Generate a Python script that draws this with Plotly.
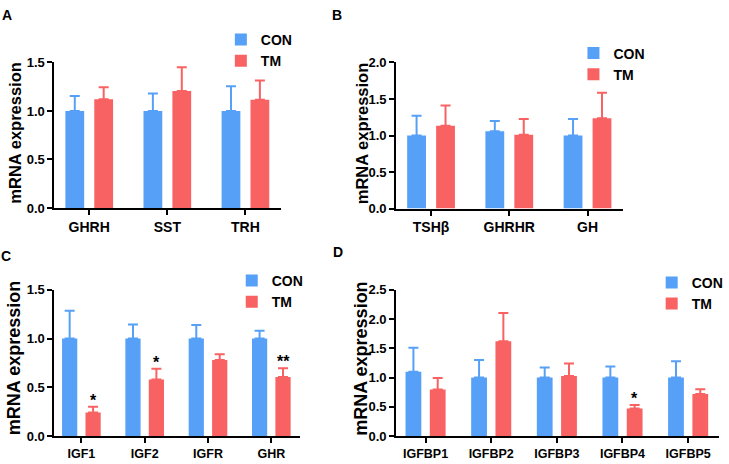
import plotly.graph_objects as go

# Dados (média e erro superior)
genes_a = ["GHRH", "SST", "TRH"]
con_a = [1.0, 1.0, 1.0]
con_a_err = [0.155, 0.18, 0.255]
tm_a = [1.12, 1.205, 1.115]
tm_a_err = [0.125, 0.245, 0.2]

genes_b = ["TSHβ", "GHRHR", "GH"]
con_b = [1.0, 1.06, 1.0]
con_b_err = [0.27, 0.14, 0.225]
tm_b = [1.135, 1.01, 1.235]
tm_b_err = [0.275, 0.215, 0.35]

genes_c = ["IGF1", "IGF2", "IGFR", "GHR"]
con_c = [1.0, 1.0, 1.0, 1.0]
con_c_err = [0.285, 0.145, 0.14, 0.08]
tm_c = [0.24, 0.58, 0.78, 0.605]
tm_c_err = [0.06, 0.11, 0.06, 0.09]
sig_c = ["*", "*", "", "**"]

genes_d = ["IGFBP1", "IGFBP2", "IGFBP3", "IGFBP4", "IGFBP5"]
con_d = [1.1, 1.0, 1.0, 1.0, 1.0]
con_d_err = [0.41, 0.3, 0.17, 0.19, 0.28]
tm_d = [0.795, 1.62, 1.025, 0.47, 0.72]
tm_d_err = [0.195, 0.485, 0.215, 0.06, 0.08]
sig_d = ["", "", "", "*", ""]

W, H = 729, 464
BLUE = "#56A0F7"
RED = "#F96262"
FONT = "Arial, Liberation Sans, sans-serif"


def px_x(v):
    return v / W


def px_y(v):
    return 1 - v / H


# posições em pixels (medidas na imagem de referência)
panels = [
    dict(genes=genes_a, con=con_a, con_err=con_a_err, tm=tm_a, tm_err=tm_a_err, sig=None,
         x0=55, x1=283.3, yt=57.3, yb=207.7, ymax=1.5, xr=[-0.445, 2.45],
         leg=(223, 17.5), letter="A", lpos=(7, 8), tick=14, title=16.5, tx=15, ty=130),
    dict(genes=genes_b, con=con_b, con_err=con_b_err, tm=tm_b, tm_err=tm_b_err, sig=None,
         x0=400, x1=629, yt=57.3, yb=208.3, ymax=2.0, xr=[-0.446, 2.453],
         leg=(579, 31.5), letter="B", lpos=(340, 8), tick=14, title=16.5, tx=365, ty=130),
    dict(genes=genes_c, con=con_c, con_err=con_c_err, tm=tm_c, tm_err=tm_c_err, sig=sig_c,
         x0=55, x1=302.7, yt=292.3, yb=443.3, ymax=1.5, xr=[-0.425, 3.45],
         leg=(234, 266.5), letter="C", lpos=(6, 257), tick=12.5, title=18, tx=14, ty=363),
    dict(genes=genes_d, con=con_d, con_err=con_d_err, tm=tm_d, tm_err=tm_d_err, sig=sig_d,
         x0=400, x1=725.7, yt=292.3, yb=443.3, ymax=2.5, xr=[-0.448, 4.466],
         leg=(658, 268.5), letter="D", lpos=(341, 253), tick=12.5, title=18, tx=365, ty=363),
]

fig = go.Figure()
layout = {}
annotations = []

for i, p in enumerate(panels):
    n = "" if i == 0 else str(i + 1)
    xa, ya = "x" + n, "y" + n
    legname = "legend" + n
    for name, vals, errs, color in [("CON", p["con"], p["con_err"], BLUE), ("TM", p["tm"], p["tm_err"], RED)]:
        fig.add_trace(go.Bar(
            x=p["genes"], y=vals, name=name, marker=dict(color=color, line=dict(width=0)),
            error_y=dict(type="data", symmetric=False, array=errs, arrayminus=[0] * len(errs),
                         color=color, thickness=2, width=5),
            xaxis=xa, yaxis=ya, legend=legname, offsetgroup=name,
        ))
    layout["xaxis" + n] = dict(
        domain=[px_x(p["x0"]), px_x(p["x1"])], anchor=ya, range=p["xr"], type="category",
        showline=True, linecolor="black", linewidth=2, ticks="outside", ticklen=5,
        tickwidth=2, tickcolor="black", showgrid=False, zeroline=False,
        tickfont=dict(family=FONT, size=p["tick"], color="black", weight="bold"),
    )
    layout["yaxis" + n] = dict(
        domain=[px_y(p["yb"]), px_y(p["yt"])], anchor=xa, range=[0, p["ymax"]], dtick=0.5,
        tickformat=".1f", showline=True, linecolor="black", linewidth=2,
        ticks="outside", ticklen=5, tickwidth=2, tickcolor="black",
        showgrid=False, zeroline=False,
        tickfont=dict(family=FONT, size=13, color="black", weight="bold"),
    )
    layout[legname] = dict(
        x=px_x(p["leg"][0]), y=px_y(p["leg"][1]), xanchor="left", yanchor="top",
        bgcolor="rgba(0,0,0,0)", tracegroupgap=0,
        font=dict(family=FONT, size=14, color="black", weight="bold"),
    )
    # título do eixo y
    annotations.append(dict(
        text="mRNA expression", textangle=-90, xref="paper", yref="paper",
        x=px_x(p["tx"]), y=px_y(p["ty"]),
        showarrow=False, xanchor="center", yanchor="middle",
        font=dict(family=FONT, size=p["title"], color="black", weight="bold"),
    ))
    # letra do painel
    annotations.append(dict(
        text=p["letter"], xref="paper", yref="paper", x=px_x(p["lpos"][0]), y=px_y(p["lpos"][1]),
        showarrow=False, xanchor="center", yanchor="middle",
        font=dict(family=FONT, size=14, color="black", weight="bold"),
    ))
    # asteriscos de significância
    if p["sig"]:
        for k, s in enumerate(p["sig"]):
            if s:
                annotations.append(dict(
                    text=s, xref=xa, yref=ya, x=k + 0.185, y=p["tm"][k] + p["tm_err"][k],
                    showarrow=False, xanchor="center", yanchor="bottom", yshift=-4,
                    font=dict(family=FONT, size=16, color="black", weight="bold"),
                ))

fig.update_layout(
    width=W, height=H, margin=dict(l=0, r=0, t=0, b=0),
    paper_bgcolor="white", plot_bgcolor="white",
    barmode="group", bargap=0.26, bargroupgap=0.35,
    annotations=annotations, **layout,
)

# remove a margem padrão do <body> para o gráfico ocupar a janela inteira
fig.write_html(
    "out.html",
    config={"displayModeBar": False},
    post_script="document.body.style.margin='0px';",
)
